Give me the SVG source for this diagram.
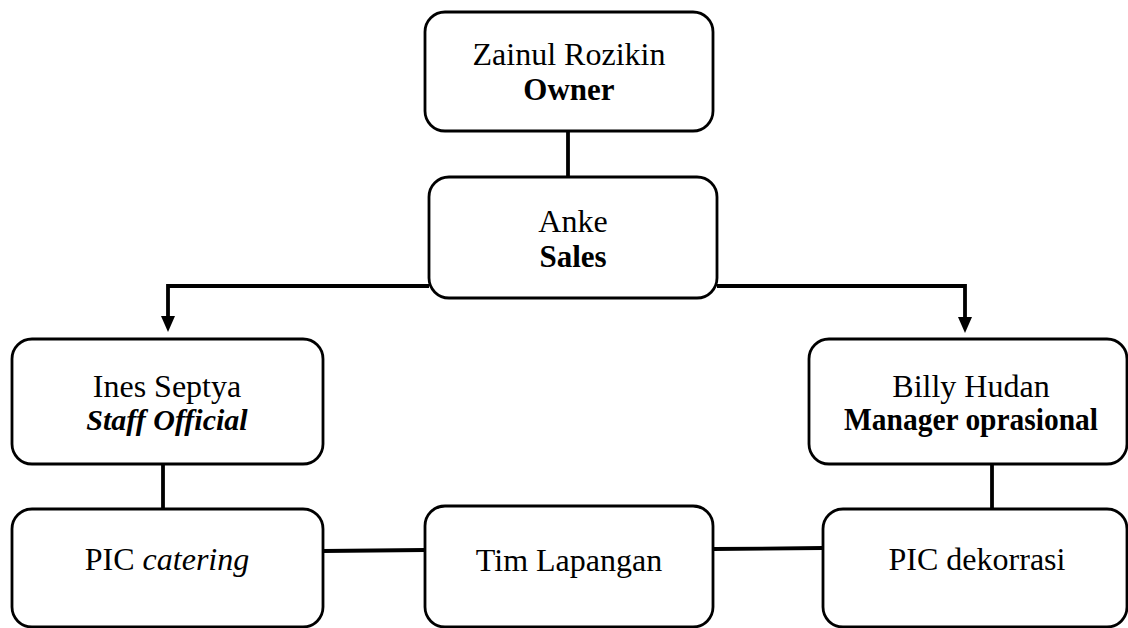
<svg xmlns="http://www.w3.org/2000/svg" width="1128" height="628" viewBox="0 0 1128 628">
<style>
.box{fill:#fff;stroke:#000;stroke-width:2.8}
.ln{fill:none;stroke:#000;stroke-width:3.8}
text{font-family:'Liberation Serif','Times New Roman',Times,'DejaVu Serif',serif;font-size:32px;fill:#000;text-anchor:middle}
.b{font-weight:bold;font-size:31px}
.i{font-style:italic}
.bi{font-size:30px}
</style>
<rect width="1128" height="628" fill="#fff"/>
<g id="connectors">
<line class="ln" x1="568" y1="131" x2="568" y2="177"/>
<path class="ln" d="M429,286 H168 V318"/>
<path d="M161,316 L175,316 L168,332 Z" fill="#000"/>
<path class="ln" d="M717,286 H965 V318"/>
<path d="M958,317 L972,317 L965,333 Z" fill="#000"/>
<line class="ln" x1="163" y1="464" x2="163" y2="509"/>
<line class="ln" x1="992" y1="458" x2="992" y2="509"/>
<line class="ln" x1="323" y1="551" x2="425" y2="550"/>
<line class="ln" x1="713" y1="549" x2="823" y2="548"/>
</g>
<g id="owner">
<rect class="box" x="425" y="12" width="288" height="119" rx="20"/>
<text x="569" y="65">Zainul Rozikin</text>
<text class="b" x="569" y="100">Owner</text>
</g>
<g id="sales">
<rect class="box" x="429" y="177" width="288" height="121" rx="20"/>
<text x="573" y="232">Anke</text>
<text class="b" x="573" y="267">Sales</text>
</g>
<g id="ines">
<rect class="box" x="12" y="339" width="311" height="125" rx="20"/>
<text x="167" y="397">Ines Septya</text>
<text class="b i bi" x="167" y="430">Staff Official</text>
</g>
<g id="billy">
<rect class="box" x="809" y="339" width="318" height="125" rx="20"/>
<text x="971" y="397">Billy Hudan</text>
<text class="b" x="971" y="430" textLength="254" lengthAdjust="spacingAndGlyphs">Manager oprasional</text>
</g>
<g id="pic-catering">
<rect class="box" x="12" y="509" width="311" height="118" rx="20"/>
<text x="167" y="570">PIC <tspan class="i">catering</tspan></text>
</g>
<g id="tim-lapangan">
<rect class="box" x="425" y="506" width="288" height="121" rx="20"/>
<text x="569" y="571">Tim Lapangan</text>
</g>
<g id="pic-dekorrasi">
<rect class="box" x="823" y="509" width="304" height="118" rx="20"/>
<text x="977" y="570">PIC dekorrasi</text>
</g>
</svg>
